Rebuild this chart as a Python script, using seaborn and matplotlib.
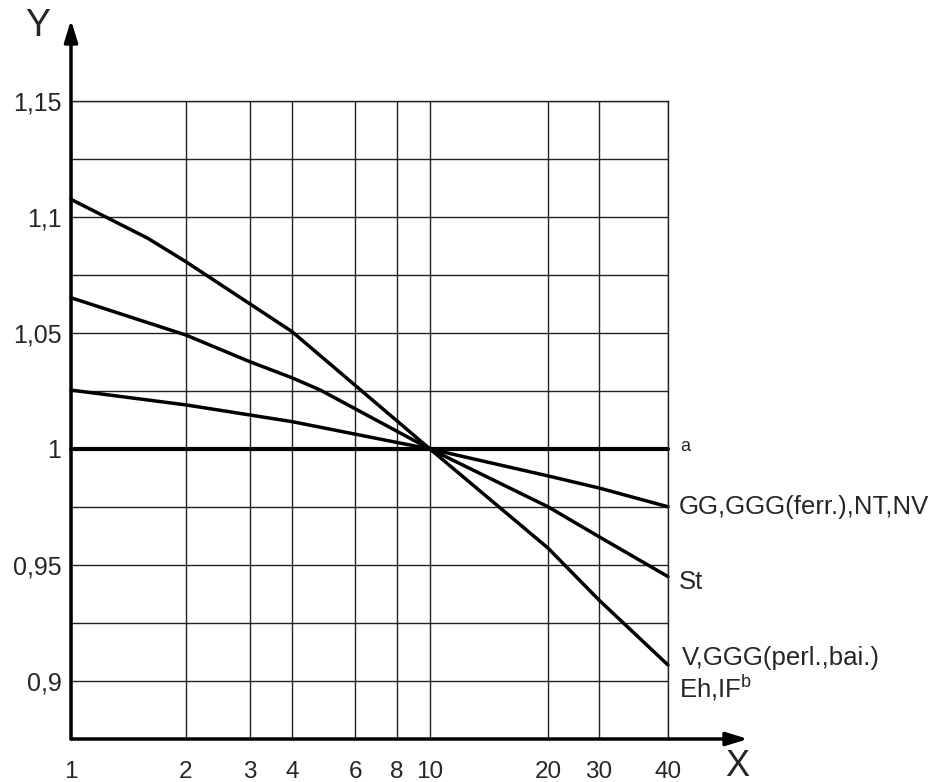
import numpy as np
import pandas as pd
import matplotlib
matplotlib.use("Agg")
import matplotlib.pyplot as plt
import seaborn as sns

# x ticks of the drawing and the curves
x_ticks = [1, 2, 3, 4, 6, 8, 10, 20, 30, 40]
y_ticks = [0.875, 0.9, 0.925, 0.95, 0.975, 1.0, 1.025, 1.05, 1.075, 1.1, 1.125, 1.15]
y_labels = ["", "0,9", "", "0,95", "", "1", "", "1,05", "", "1,1", "", "1,15"]

x_ref = [1, 40]
y_ref = [1.0, 1.0]

x_gg = [1, 2, 4, 10, 20, 30, 40]
y_gg = [1.0254, 1.019, 1.0118, 1.0, 0.9884, 0.9832, 0.9751]

x_st = [1, 2, 3, 4, 4.8, 10, 20, 30, 40]
y_st = [1.0652, 1.0491, 1.0376, 1.0307, 1.0254, 1.0, 0.9751, 0.9622, 0.945]

x_v = [1, 1.59, 2, 4, 10, 20, 30, 40]
y_v = [1.1076, 1.0908, 1.0807, 1.0506, 1.0, 0.9573, 0.9349, 0.9069]

labels = ["a", "GG,GGG(ferr.),NT,NV", "St", "V,GGG(perl.,bai.)"]

# the drawing's x axis is only roughly logarithmic: map ticks to where they sit
tick_pos = np.array([0, 115, 179, 221, 284, 326, 359, 477, 528, 597], dtype=float)
log_ticks = np.log10(x_ticks)


def fwd(x):
    x = np.clip(np.asarray(x, dtype=float), 1e-6, None)
    return np.interp(np.log10(x), log_ticks, tick_pos)


def inv(p):
    return 10 ** np.interp(np.asarray(p, dtype=float), tick_pos, log_ticks)


sns.set_style("white")
plt.rcParams["font.family"] = ["Liberation Sans", "DejaVu Sans"]
plt.rcParams["mathtext.fontset"] = "custom"
plt.rcParams["mathtext.rm"] = "Liberation Sans"

fig = plt.figure(figsize=(9.39, 7.82), dpi=100)
ax = fig.add_axes([71 / 939, 43 / 782, 597 / 939, 638 / 782])
ax.set_xscale("function", functions=(fwd, inv))
ax.set_xlim(1, 40)
ax.set_ylim(0.875, 1.15)

ax.set_xticks(x_ticks)
ax.set_xticklabels([str(t) for t in x_ticks])
ax.set_yticks(y_ticks)
ax.set_yticklabels(y_labels)
ax.xaxis.set_minor_locator(matplotlib.ticker.NullLocator())
ax.tick_params(axis="x", length=0, pad=16, labelsize=17.5)
ax.tick_params(axis="y", length=0, pad=7, labelsize=18)
ax.grid(True, color="#222222", lw=1.0)

curves = [(x_ref, y_ref, 3.0), (x_gg, y_gg, 2.5), (x_st, y_st, 2.5), (x_v, y_v, 2.5)]
for xs, ys, lw in curves:
    df = pd.DataFrame({"x": xs, "y": ys})
    sns.lineplot(data=df, x="x", y="y", color="black", lw=lw,
                 estimator=None, sort=False, ax=ax, clip_on=False)

ax.set_xlabel("")
ax.set_ylabel("")

for s in ["top", "right"]:
    ax.spines[s].set_color("#222222")
    ax.spines[s].set_linewidth(1.0)
for s in ["left", "bottom"]:
    ax.spines[s].set_visible(False)

arrow = dict(arrowstyle="-|>,head_length=0.65,head_width=0.2", color="black",
             lw=2.5, shrinkA=0, shrinkB=0, mutation_scale=20)
ax.annotate("", xy=(0, 1.127), xytext=(0, 0), xycoords="axes fraction",
            arrowprops=arrow, annotation_clip=False)
ax.annotate("", xy=(1.134, 0), xytext=(0, 0), xycoords="axes fraction",
            arrowprops=arrow, annotation_clip=False)

fig.text(38 / 939, 1 - 26 / 782, "Y", fontsize=27, ha="center", va="center")
fig.text(737 / 939, 1 - 766 / 782, "X", fontsize=26, ha="center", va="center")

# curve labels at the right end
ends = [(y_ref[-1], 9, 1.5, 13), (y_gg[-1], 8, 0, 18.5),
        (y_st[-1], 8, -3.6, 18.5), (y_v[-1], 10, 5, 18.5)]
for lab, (ye, dx, dy, fs) in zip(labels, ends):
    ax.annotate(lab, xy=(40, ye), xytext=(dx, dy), textcoords="offset points",
                ha="left", va="center", fontsize=fs, annotation_clip=False)
ax.annotate("Eh,IF$^{\\mathrm{b}}$", xy=(40, 0.9), xytext=(8, -4.5),
            textcoords="offset points", ha="left", va="center", fontsize=18.5,
            annotation_clip=False)

fig.savefig("out.png", dpi=100)
